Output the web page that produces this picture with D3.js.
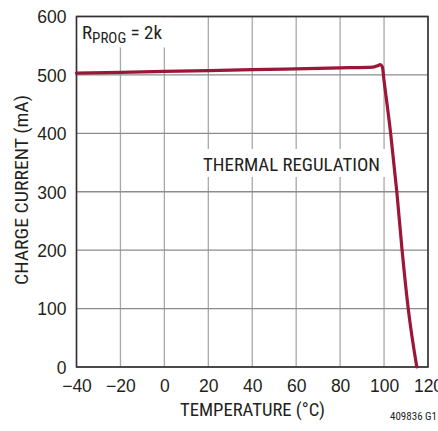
<!DOCTYPE html>
<html><head><meta charset="utf-8">
<script src="https://cdn.jsdelivr.net/npm/d3@7"></script>
<style>
html,body{margin:0;padding:0;background:#fff;}
text{font-family:"Liberation Sans Narrow","Arial Narrow","Roboto Condensed",Arial,sans-serif;fill:#231f20;}
</style></head>
<body><svg id="c" width="438" height="431"></svg>
<script>
const temps    = [-40, 0, 40, 80, 95, 97, 98.2, 99.2, 100, 103, 105.8, 108.2, 111, 114.9];
const currents = [503, 506, 509, 512, 513.5, 515.5, 517.5, 514, 490, 400, 300, 200, 100, 0];
const xTicks = [-40, -20, 0, 20, 40, 60, 80, 100, 120];
const yTicks = [0, 100, 200, 300, 400, 500, 600];
const xTitle = "TEMPERATURE (°C)";
const yTitle = "CHARGE CURRENT (mA)";
const noteMain = "R";
const noteSub = "PROG";
const noteTail = " = 2k";
const regionLabel = "THERMAL REGULATION";
const figId = "409836 G1";

const svg = d3.select("#c");
const L = 76.5, R = 428, T = 16.5, B = 367;
const x = d3.scaleLinear().domain([-40, 120]).range([L, R]);
const y = d3.scaleLinear().domain([0, 600]).range([B, T]);

// grid
const g = svg.append("g");
g.selectAll(".vx").data(xTicks).join("line")
  .attr("x1", d => x(d)).attr("x2", d => x(d)).attr("y1", T).attr("y2", B)
  .attr("stroke", "#a8a8a8").attr("stroke-width", 1.3);
g.selectAll(".hy").data(yTicks).join("line")
  .attr("x1", L).attr("x2", R).attr("y1", d => y(d)).attr("y2", d => y(d))
  .attr("stroke", "#8c8c8c").attr("stroke-width", 1.3);

// white label boxes
svg.append("rect").attr("x", L + 1).attr("y", T + 1).attr("width", 94).attr("height", 30).attr("fill", "#fff");
svg.append("rect").attr("x", 198).attr("y", 149).attr("width", 188).attr("height", 28).attr("fill", "#fff");

// frame
svg.append("rect").attr("x", L).attr("y", T).attr("width", R - L).attr("height", B - T)
  .attr("fill", "none").attr("stroke", "#333").attr("stroke-width", 1.6);

// axes (labels only)
const xa = svg.append("g").attr("transform", `translate(0,${B})`)
  .call(d3.axisBottom(x).tickValues(xTicks).tickSize(0).tickPadding(13).tickFormat(d => d < 0 ? "\u2212" + Math.abs(d) : d));
const ya = svg.append("g").attr("transform", `translate(${L},0)`)
  .call(d3.axisLeft(y).tickValues(yTicks).tickSize(0).tickPadding(10));
[xa, ya].forEach(a => {
  a.select(".domain").remove();
  a.selectAll("text").attr("font-size", 17.5).attr("fill", "#231f20")
   .style("font-family", '"Liberation Sans Narrow","Arial Narrow",Arial,sans-serif');
});
xa.selectAll("text").attr("dy", "0.71em");
ya.selectAll("text").attr("dy", "0.36em");

// line
const line = d3.line().x((d, i) => x(temps[i])).y(d => y(d)).curve(d3.curveMonotoneX);
svg.append("path").datum(currents).attr("d", line)
  .attr("fill", "none").attr("stroke", "#9c1638").attr("stroke-width", 3.2)
  .attr("stroke-linejoin", "round").attr("stroke-linecap", "round");

// titles
svg.append("text").attr("x", 252.5).attr("y", 416).attr("text-anchor", "middle")
  .attr("font-size", 19).attr("textLength", 145).attr("lengthAdjust", "spacingAndGlyphs").text(xTitle);
svg.append("text").attr("transform", "translate(28,190) rotate(-90)").attr("text-anchor", "middle")
  .attr("font-size", 19).attr("textLength", 190).attr("lengthAdjust", "spacingAndGlyphs").text(yTitle);

// annotations
const n = svg.append("text").attr("x", 82).attr("y", 38.5).attr("font-size", 19);
n.append("tspan").text(noteMain);
n.append("tspan").attr("font-size", 15).attr("dy", 4).text(noteSub);
n.append("tspan").attr("dy", -4).text(noteTail);

svg.append("text").attr("x", 203).attr("y", 171).attr("font-size", 19)
  .attr("textLength", 177).attr("lengthAdjust", "spacingAndGlyphs").text(regionLabel);

svg.append("text").attr("x", 390).attr("y", 420).attr("font-size", 11).text(figId);
</script></body></html>
